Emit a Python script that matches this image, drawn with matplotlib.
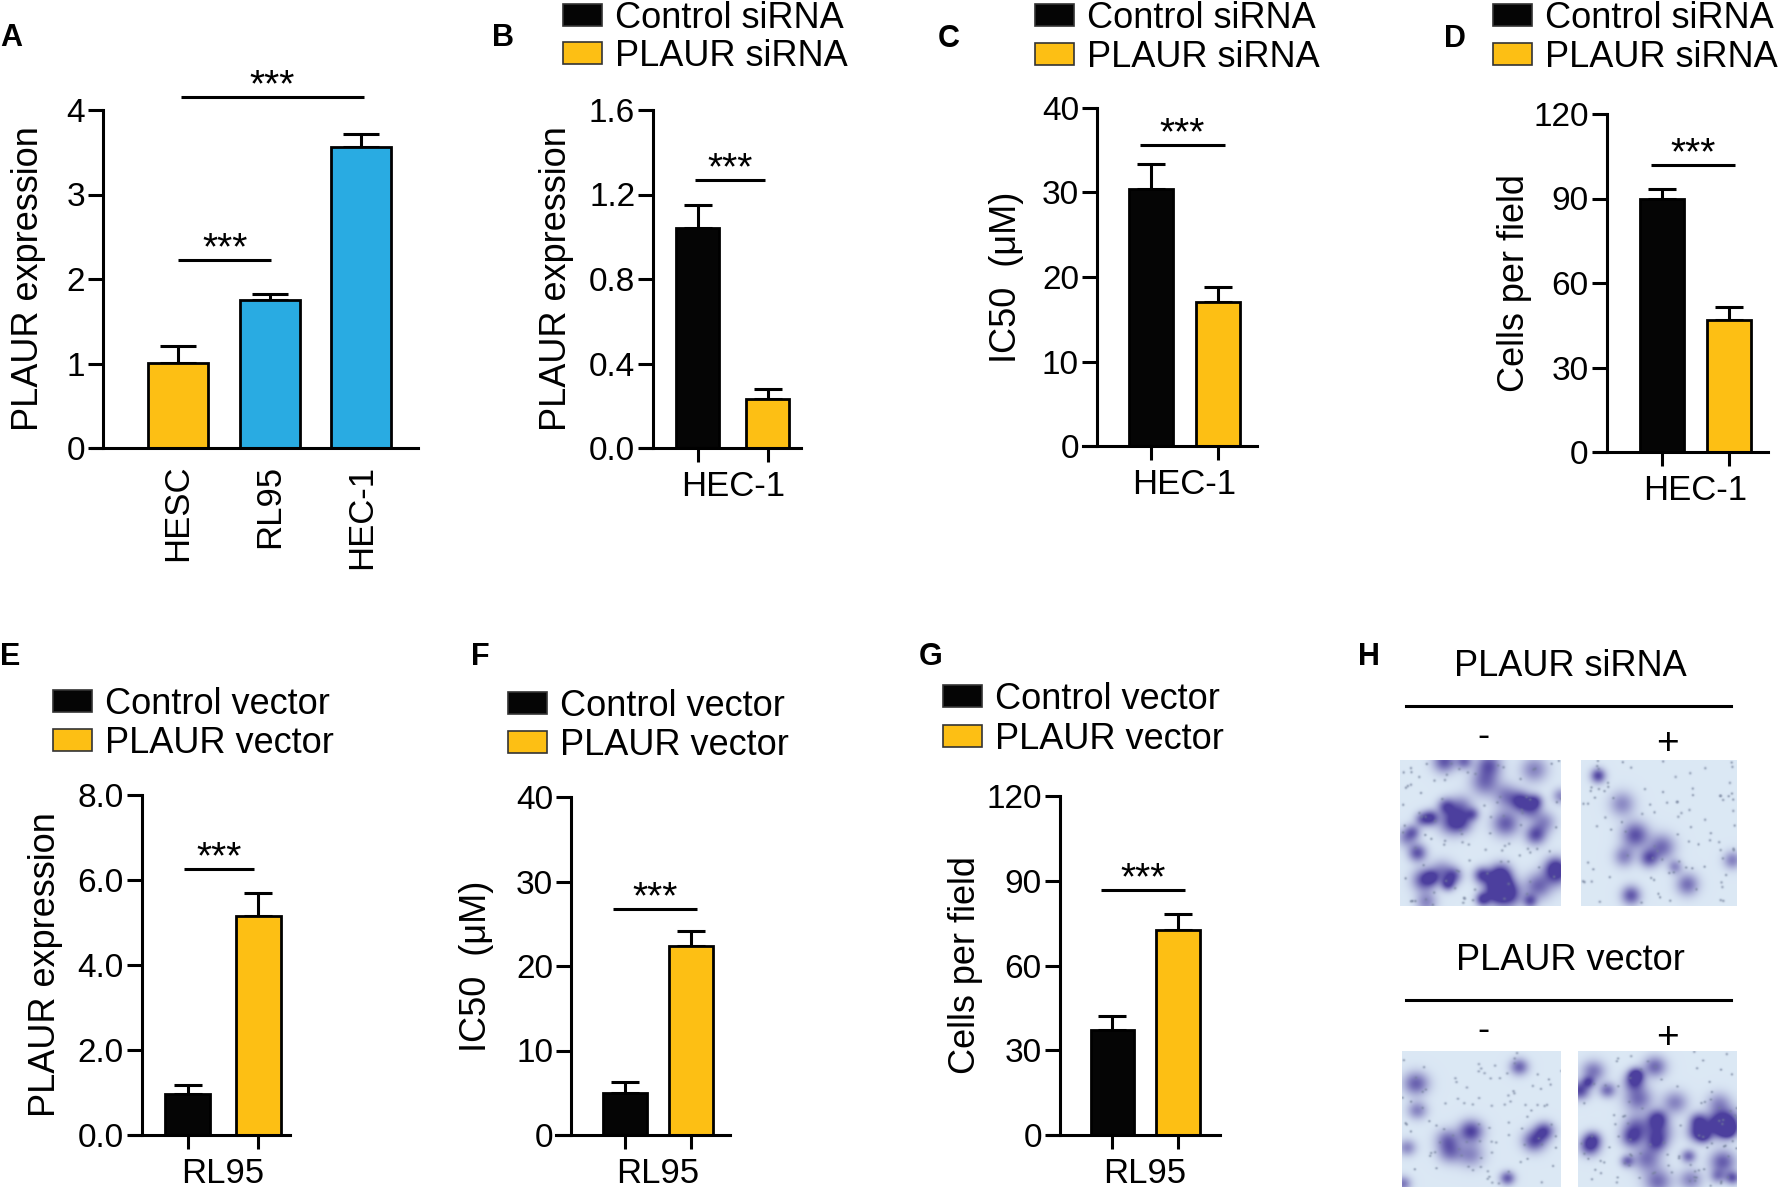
import numpy as np
import matplotlib
matplotlib.use("Agg")
import matplotlib.pyplot as plt
from matplotlib.patches import Rectangle

plt.rcParams['font.family'] = ['Liberation Sans', 'DejaVu Sans']

# ---------------- data ----------------
A_categories = ['HESC', 'RL95', 'HEC-1']
A_values = [1.01, 1.75, 3.56]
A_errors = [0.20, 0.07, 0.16]
A_yticks = [0, 1, 2, 3, 4]
A_ylabels = ['0', '1', '2', '3', '4']

siRNA_legend = ['Control siRNA', 'PLAUR siRNA']
vector_legend = ['Control vector', 'PLAUR vector']

B_values = [1.04, 0.23]
B_errors = [0.11, 0.047]
B_yticks = [0.0, 0.4, 0.8, 1.2, 1.6]
B_ylabels = ['0.0', '0.4', '0.8', '1.2', '1.6']

C_values = [30.4, 17.05]
C_errors = [3.0, 1.75]
C_yticks = [0, 10, 20, 30, 40]
C_ylabels = ['0', '10', '20', '30', '40']

D_values = [90.0, 46.7]
D_errors = [3.5, 4.7]
D_yticks = [0, 30, 60, 90, 120]
D_ylabels = ['0', '30', '60', '90', '120']

E_values = [0.97, 5.15]
E_errors = [0.21, 0.55]
E_yticks = [0.0, 2.0, 4.0, 6.0, 8.0]
E_ylabels = ['0.0', '2.0', '4.0', '6.0', '8.0']

F_values = [4.95, 22.4]
F_errors = [1.33, 1.8]
F_yticks = [0, 10, 20, 30, 40]
F_ylabels = ['0', '10', '20', '30', '40']

G_values = [37.0, 72.5]
G_errors = [5.1, 5.6]
G_yticks = [0, 30, 60, 90, 120]
G_ylabels = ['0', '30', '60', '90', '120']

# significance bar heights (data units)
A_sig = [2.22, 4.15]
B_sig = 1.268
C_sig = 35.6
D_sig = 101.9
E_sig = 6.25
F_sig = 26.7
G_sig = 86.9

H_titles = ['PLAUR siRNA', 'PLAUR vector']
H_signs = ['-', '+']

# ---------------- styling ----------------
W, H = 1784, 1187
YELLOW = '#FDBF14'
BLUE = '#29ABE2'
BLACK = '#050505'
LW = 2.2

fig = plt.figure(figsize=(W / 100, H / 100), dpi=100)


def fx(px):
    return px / W


def fy(py):
    return 1 - py / H


def make_axes(x0, x1, ytop, ybot):
    return fig.add_axes([fx(x0), fy(ybot), (x1 - x0) / W, (ybot - ytop) / H])


def style_axes(ax, xlim, spine_x, ymax, yticks, ylabels):
    ax.set_xlim(*xlim)
    ax.set_ylim(0, ymax)
    for s in ['top', 'right']:
        ax.spines[s].set_visible(False)
    ax.spines['left'].set_position(('data', spine_x))
    ax.spines['left'].set_linewidth(LW)
    ax.spines['bottom'].set_linewidth(LW)
    ax.set_yticks(yticks)
    ax.set_yticklabels(ylabels)
    ax.tick_params(axis='y', length=11, width=LW, pad=2, labelsize=24)
    ax.patch.set_alpha(0)


def sig(ax, x0, x1, y):
    ax.plot([x0, x1], [y, y], color='black', lw=LW, solid_capstyle='butt', clip_on=False)
    ax.annotate('***', xy=((x0 + x1) / 2, y), xytext=(0, 0.5), textcoords='offset points',
                ha='center', va='baseline', fontsize=28, annotation_clip=False)


def two_bar(ax, values, errors, width, capsize, group):
    pos = [0, 1]
    ax.bar(pos, values, width, color=[BLACK, YELLOW], edgecolor='black', linewidth=2, zorder=2)
    ax.errorbar(pos, values, yerr=[[0, 0], errors], fmt='none', ecolor='black',
                elinewidth=LW, capsize=capsize, capthick=LW, zorder=1)
    ax.set_xticks(pos)
    ax.set_xticklabels(['', ''])
    ax.tick_params(axis='x', length=10, width=LW)
    ax.annotate(group, xy=(0.5, 0), xycoords=('data', 'axes fraction'), xytext=(0, -27.5),
                textcoords='offset points', ha='center', va='center', fontsize=25,
                annotation_clip=False)


def ylabel(px, ytop, ybot, text):
    fig.text(fx(px), fy((ytop + ybot) / 2), text, rotation=90, ha='center', va='center', fontsize=26)


def legend(x_sq, y1, y2, labels):
    # y1, y2: top pixel of the two squares
    for (yt, lab, col) in zip([y1, y2], labels, [BLACK, YELLOW]):
        fig.add_artist(Rectangle((fx(x_sq), fy(yt + 22)), 39 / W, 22 / H, transform=fig.transFigure,
                                 facecolor=col, edgecolor='#333333', linewidth=1.2))
        fig.text(fx(x_sq + 52), fy(yt + 24), lab, ha='left', va='baseline', fontsize=26)


def letter(px, py, t):
    # py: baseline pixel
    fig.text(fx(px), fy(py), t, ha='left', va='baseline', fontsize=22, fontweight='bold')


# ---------------- Panel A ----------------
axA = make_axes(92, 418, 110, 448)
style_axes(axA, (-0.94, 2.62), -0.82, 4, A_yticks, A_ylabels)
posA = np.arange(len(A_categories))
axA.bar(posA, A_values, 0.656, color=[YELLOW, BLUE, BLUE], edgecolor='black', linewidth=2, zorder=2)
axA.errorbar(posA, A_values, yerr=[np.zeros(3), A_errors], fmt='none', ecolor='black',
             elinewidth=LW, capsize=13, capthick=LW, zorder=1)
axA.set_xticks(posA)
axA.set_xticklabels(A_categories, rotation=90, fontsize=25)
axA.tick_params(axis='x', length=0, pad=12)
sig(axA, 0.0, 1.02, A_sig[0])
sig(axA, 0.03, 2.03, A_sig[1])
ylabel(29, 110, 448, 'PLAUR expression')
letter(0, 46, 'A')

# ---------------- Panel B ----------------
axB = make_axes(640, 801, 110, 448)
style_axes(axB, (-0.83, 1.48), -0.64, 1.6, B_yticks, B_ylabels)
two_bar(axB, B_values, B_errors, 0.62, 10, 'HEC-1')
sig(axB, -0.04, 0.97, B_sig)
ylabel(557, 110, 448, 'PLAUR expression')
legend(563, 4, 42, siRNA_legend)
letter(492, 46, 'B')

# ---------------- Panel C ----------------
axC = make_axes(1083, 1257, 108, 446)
style_axes(axC, (-1.02, 1.59), -0.81, 40, C_yticks, C_ylabels)
two_bar(axC, C_values, C_errors, 0.66, 10, 'HEC-1')
sig(axC, -0.17, 1.11, C_sig)
ylabel(1007, 108, 446, 'IC50  (\u03bcM)')
legend(1035, 4, 43, siRNA_legend)
letter(938, 47, 'C')

# ---------------- Panel D ----------------
axD = make_axes(1594, 1768, 114, 452)
style_axes(axD, (-1.02, 1.59), -0.83, 120, D_yticks, D_ylabels)
two_bar(axD, D_values, D_errors, 0.66, 10, 'HEC-1')
sig(axD, -0.17, 1.09, D_sig)
ylabel(1514, 114, 452, 'Cells per field')
legend(1493, 4, 43, siRNA_legend)
letter(1444, 47, 'D')

# ---------------- Panel E ----------------
axE = make_axes(131, 290, 795, 1135)
style_axes(axE, (-0.80, 1.45), -0.65, 8, E_yticks, E_ylabels)
two_bar(axE, E_values, E_errors, 0.64, 10, 'RL95')
sig(axE, -0.05, 0.94, E_sig)
ylabel(46, 795, 1135, 'PLAUR expression')
legend(53, 690, 729, vector_legend)
letter(0, 665, 'E')

# ---------------- Panel F ----------------
axF = make_axes(556, 730, 797, 1135)
style_axes(axF, (-1.05, 1.59), -0.82, 40, F_yticks, F_ylabels)
two_bar(axF, F_values, F_errors, 0.66, 10, 'RL95')
sig(axF, -0.18, 1.09, F_sig)
ylabel(476, 797, 1135, 'IC50  (\u03bcM)')
legend(508, 692, 731, vector_legend)
letter(471, 665, 'F')

# ---------------- Panel G ----------------
axG = make_axes(1048, 1220, 796, 1135)
style_axes(axG, (-0.98, 1.64), -0.80, 120, G_yticks, G_ylabels)
two_bar(axG, G_values, G_errors, 0.66, 10, 'RL95')
sig(axG, -0.17, 1.11, G_sig)
ylabel(965, 796, 1135, 'Cells per field')
legend(943, 685, 725, vector_legend)
letter(919, 665, 'G')

# ---------------- Panel H (micrograph placeholders) ----------------
letter(1358, 665, 'H')


def micrograph(n_blobs, seed):
    # placeholder texture standing in for the stained-cell photographs
    rng = np.random.default_rng(seed)
    h, w = 150, 160
    yy, xx = np.mgrid[0:h, 0:w]
    a = np.zeros((h, w))
    for _ in range(n_blobs):
        cx, cy = rng.uniform(0, w), rng.uniform(0, h)
        s = rng.uniform(4, 10)
        a += rng.uniform(0.5, 1.0) * np.exp(-((xx - cx) ** 2 + (yy - cy) ** 2) / (2 * s * s))
    dots = np.zeros((h, w))
    for _ in range(90):
        cx, cy = rng.uniform(0, w), rng.uniform(0, h)
        dots += 0.6 * np.exp(-((xx - cx) ** 2 + (yy - cy) ** 2) / 2.0)
    a = np.clip(a, 0, 1)
    dots = np.clip(dots, 0, 0.7)
    bg = np.array([0.86, 0.91, 0.96])
    purple = np.array([0.30, 0.25, 0.62])
    grey = np.array([0.45, 0.50, 0.60])
    img = bg[None, None, :] * (1 - a[..., None]) + purple[None, None, :] * a[..., None]
    img = img * (1 - dots[..., None]) + grey[None, None, :] * dots[..., None]
    return np.clip(img, 0, 1)


photo_boxes = [
    (1400, 1561, 760, 906, 40, 1),
    (1581, 1737, 760, 906, 10, 2),
    (1402, 1561, 1051, 1187, 12, 3),
    (1578, 1737, 1051, 1187, 32, 4),
]
for (x0, x1, y0, y1, nb, sd) in photo_boxes:
    axp = make_axes(x0, x1, y0, y1)
    axp.imshow(micrograph(nb, sd), aspect='auto', interpolation='bilinear')
    axp.axis('off')

for (title, ty, ly, sy) in zip(H_titles, [667, 961], [706, 1000], [737, 1031]):
    fig.text(fx(1570), fy(ty), title, ha='center', va='center', fontsize=26)
    fig.add_artist(plt.Line2D([fx(1406), fx(1731)], [fy(ly), fy(ly)], transform=fig.transFigure,
                              color='black', lw=LW))
    fig.text(fx(1483), fy(sy), H_signs[0], ha='center', va='center', fontsize=26)
    fig.text(fx(1667), fy(sy + 7), H_signs[1], ha='center', va='center', fontsize=28)

fig.savefig('out.png', dpi=100)
